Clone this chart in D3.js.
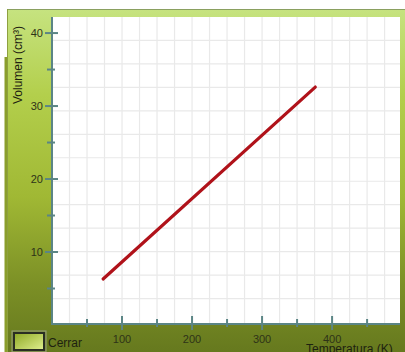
<!DOCTYPE html>
<html><head><meta charset="utf-8">
<script src="https://cdn.jsdelivr.net/npm/d3@7"></script>
<style>html,body{margin:0;padding:0;background:#fff;}svg{display:block;}</style>
</head><body>
<svg id="c" width="405" height="352"></svg>
<script>
// Data
const temperatures = [73, 376];          // K
const volumes = [6.3, 32.6];             // cm^3
const yMajorTicks = [10, 20, 30, 40];
const yMinorTicks = [5, 15, 25, 35];
const xMajorTicks = [100, 200, 300, 400];
const xMinorTicks = [50, 150, 250, 350, 450];
const xGridValues = d3.range(25, 500, 25);
const yGridRows = 13;
const xLabel = "Temperatura (K)";
const yLabel = "Volumen (cm³)";
const buttonLabel = "Cerrar";

(function(){
const svg = d3.select("#c");
const W = 405, H = 352;
const pL = 52, pR = 400, pT = 17, pB = 325;

const defs = svg.append("defs");
const g1 = defs.append("linearGradient").attr("id","panel").attr("x1",0).attr("y1",0).attr("x2",0).attr("y2",1);
g1.append("stop").attr("offset","0%").attr("stop-color","#c6e380");
g1.append("stop").attr("offset","25%").attr("stop-color","#b3cf4c");
g1.append("stop").attr("offset","55%").attr("stop-color","#a0b834");
g1.append("stop").attr("offset","80%").attr("stop-color","#7c9026");
g1.append("stop").attr("offset","100%").attr("stop-color","#66791e");
const g2 = defs.append("linearGradient").attr("id","btn").attr("x1",0).attr("y1",0).attr("x2",1).attr("y2",1);
g2.append("stop").attr("offset","0%").attr("stop-color","#8ea824");
g2.append("stop").attr("offset","100%").attr("stop-color","#e0f090");

// panel
svg.append("rect").attr("x",4.5).attr("y",57).attr("width",4).attr("height",H-57).attr("fill","#8a9e2c");
svg.append("rect").attr("x",7).attr("y",9).attr("width",W-7).attr("height",H-9).attr("fill","url(#panel)");
svg.append("line").attr("x1",7).attr("x2",W).attr("y1",9.5).attr("y2",9.5).attr("stroke","#8aa060").attr("stroke-width",1);
svg.append("line").attr("x1",7.5).attr("x2",7.5).attr("y1",9).attr("y2",H).attr("stroke","#8ea040").attr("stroke-width",1);

// plot area
svg.append("rect").attr("x",pL).attr("y",pT).attr("width",pR-pL).attr("height",pB-pT).attr("fill","#fff");

const x = d3.scaleLinear().domain([0, 497]).range([pL, pR]);
const y = d3.scaleLinear().domain([0, 42.2]).range([pB, pT]);

// grid
const grid = svg.append("g").attr("stroke","#e9e9e9").attr("stroke-width",1.2);
grid.selectAll("line.gx").data(xGridValues).join("line")
  .attr("x1",d=>x(d)).attr("x2",d=>x(d)).attr("y1",pT).attr("y2",pB);
const rowH = (pB - 3 - pT) / yGridRows;
grid.selectAll("line.gy").data(d3.range(1, yGridRows)).join("line")
  .attr("x1",pL).attr("x2",pR).attr("y1",d=>pB-3-d*rowH).attr("y2",d=>pB-3-d*rowH);

// line
const line = d3.line().x(d=>x(d[0])).y(d=>y(d[1]));
svg.append("path").datum(temperatures.map((t,i)=>[t, volumes[i]]))
  .attr("d", line).attr("fill","none").attr("stroke","#b0121a").attr("stroke-width",3.2).attr("stroke-linecap","round");

const axisCol = "#5b8585";
svg.append("line").attr("x1",pL).attr("x2",pL).attr("y1",pT).attr("y2",pB).attr("stroke",axisCol).attr("stroke-width",2);
svg.append("line").attr("x1",pL-1).attr("x2",pR).attr("y1",pB-1).attr("y2",pB-1).attr("stroke",axisCol).attr("stroke-width",2);

const font = "Liberation Sans, Arial, sans-serif";
// y ticks
const yAx = svg.append("g");
yAx.selectAll("line.M").data(yMajorTicks).join("line").attr("class","M")
  .attr("x1",pL-7).attr("x2",pL+6).attr("y1",d=>y(d)).attr("y2",d=>y(d)).attr("stroke",axisCol).attr("stroke-width",2);
yAx.selectAll("line.m").data(yMinorTicks).join("line").attr("class","m")
  .attr("x1",pL-5).attr("x2",pL+3).attr("y1",d=>y(d)).attr("y2",d=>y(d)).attr("stroke",axisCol).attr("stroke-width",2);
yAx.selectAll("text").data(yMajorTicks).join("text")
  .attr("x",pL-9).attr("y",d=>y(d)+4).attr("text-anchor","end")
  .attr("font-family",font).attr("font-size",11).attr("fill","#2e3318").text(d=>d);

// x ticks
const xAx = svg.append("g");
xAx.selectAll("line.M").data(xMajorTicks).join("line").attr("class","M")
  .attr("x1",d=>x(d)).attr("x2",d=>x(d)).attr("y1",pB-9).attr("y2",pB+5).attr("stroke",axisCol).attr("stroke-width",2);
xAx.selectAll("line.m").data(xMinorTicks).join("line").attr("class","m")
  .attr("x1",d=>x(d)).attr("x2",d=>x(d)).attr("y1",pB-6).attr("y2",pB+2).attr("stroke",axisCol).attr("stroke-width",2);
xAx.selectAll("text").data(xMajorTicks).join("text")
  .attr("x",d=>x(d)).attr("y",343).attr("text-anchor","middle")
  .attr("font-family",font).attr("font-size",11).attr("fill","#2e3318").text(d=>d);

// axis titles
svg.append("text").attr("x",306).attr("y",353).attr("font-family",font)
  .attr("font-size",12).attr("fill","#1e2210").text(xLabel);
svg.append("text").attr("transform","translate(22,65) rotate(-90)").attr("text-anchor","middle")
  .attr("font-family",font).attr("font-size",12).attr("fill","#1e2210").text(yLabel);

// button
svg.append("rect").attr("x",14).attr("y",333).attr("width",30).attr("height",17).attr("fill","url(#btn)")
  .attr("stroke","#2a2e22").attr("stroke-width",2);
svg.append("rect").attr("x",12).attr("y",331).attr("width",34).attr("height",21).attr("fill","none")
  .attr("stroke","#9aa080").attr("stroke-width",1);
svg.append("text").attr("x",48).attr("y",347).attr("font-family",font)
  .attr("font-size",12).attr("fill","#1e2210").text(buttonLabel);
})();
</script>
</body></html>
